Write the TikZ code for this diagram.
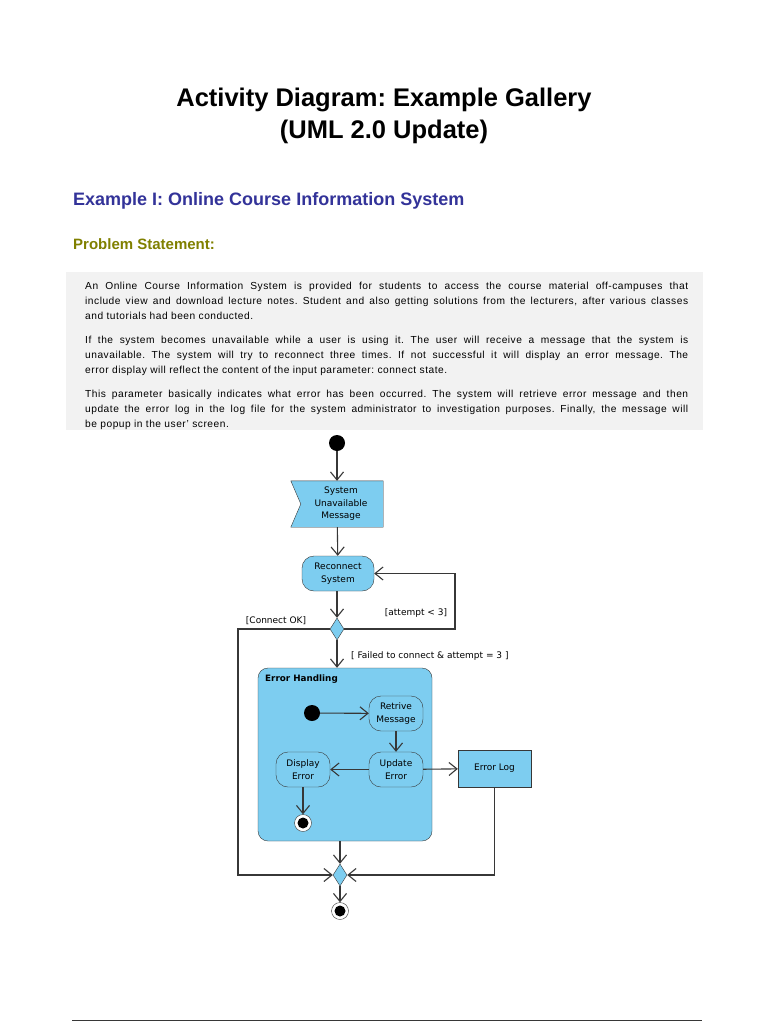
\documentclass[tikz,border=0pt]{standalone}
\usepackage{fontspec}
\setmainfont{Liberation Sans}
\newfontfamily\diagfont{DejaVu Sans}
\usetikzlibrary{positioning}
\usetikzlibrary{shapes.geometric, arrows.meta}
\frenchspacing

\definecolor{actblue}{RGB}{125,205,240}
\definecolor{headblue}{RGB}{51,51,153}
\definecolor{headolive}{RGB}{128,128,0}
\definecolor{boxgray}{RGB}{242,242,242}
\definecolor{edgegray}{RGB}{55,55,55}

\tikzset{
  action/.style={rectangle, rounded corners=12pt, draw=edgegray, fill=actblue, minimum width=54pt, minimum height=35pt, align=center, inner sep=1pt, font=\diagfont\fontsize{9}{12.5}\selectfont},
  store/.style={rectangle, draw=edgegray, fill=actblue, minimum width=73pt, minimum height=37pt, align=center, font=\diagfont\fontsize{9}{12.5}\selectfont},
  branch/.style={diamond, draw=edgegray, fill=actblue, minimum width=14pt, minimum height=22pt, inner sep=0pt},
  startdot/.style={circle, fill=black, minimum size=16pt, inner sep=0pt},
  enddot/.style={circle, draw=edgegray, fill=white, minimum size=17pt, inner sep=0pt, path picture={\fill[black] (path picture bounding box.center) circle (5.5pt);}},
  flow/.style={draw=edgegray, line width=1.1pt, -{Straight Barb[length=8pt,width=13pt]}},
  guard/.style={font=\diagfont\fontsize{9}{10}\selectfont, text=black},
  para/.style={anchor=north west, inner sep=0pt, text width=603pt, align=justify, font=\addfontfeature{LetterSpace=5}\fontsize{10.2}{15}\selectfont}
}

\begin{document}
\begin{tikzpicture}[x=1pt, y=-1pt]
\useasboundingbox (0,0) rectangle (768,1024);
\clip (0,0) rectangle (768,1024);
\fill[white] (0,0) rectangle (768,1024);

\node[font=\fontsize{25.5}{30}\selectfont\bfseries, anchor=base] (title1) at (384,107) {Activity Diagram: Example Gallery};
\node[font=\fontsize{25.5}{30}\selectfont\bfseries, anchor=base] (title2) at (384,139) {(UML 2.0 Update)};
\node[font=\fontsize{18}{21}\selectfont\bfseries, text=headblue, anchor=base west, inner sep=0pt] (exhead) at (73,206) {Example I: Online Course Information System};
\node[font=\fontsize{15}{18}\selectfont\bfseries, text=headolive, anchor=base west, inner sep=0pt] (probhead) at (73,249) {Problem Statement:};

\fill[boxgray] (66,272) rectangle (703,430);
\node[para] (par1) at (85,282) {An Online Course Information System is provided for students to access the course material off-campuses that\linebreak include view and download lecture notes. Student and also getting solutions from the lecturers, after various classes\linebreak and tutorials had been conducted.};
\node[para] (par2) at (85,336) {If the system becomes unavailable while a user is using it. The user will receive a message that the system is\linebreak unavailable. The system will try to reconnect three times. If not successful it will display an error message. The\linebreak error display will reflect the content of the input parameter: connect state.};
\node[para] (par3) at (85,390) {This parameter basically indicates what error has been occurred. The system will retrieve error message and then\linebreak update the error log in the log file for the system administrator to investigation purposes. Finally, the message will\linebreak be popup in the user' screen.};

\node[startdot] (init) at (337,443) {};
\node[minimum width=92pt, minimum height=46pt, inner sep=0pt] (sigmsg) at (337,504) {};
\filldraw[draw=edgegray, fill=actblue] (sigmsg.north west) -- (sigmsg.north east) -- (sigmsg.south east) -- (sigmsg.south west) -- ([xshift=10pt]sigmsg.west) -- cycle;
\node[align=center, font=\diagfont\fontsize{9}{12.5}\selectfont] (sigtext) at ([xshift=4pt]sigmsg.center) {System\\Unavailable\\Message};
\node[action, minimum width=72pt] (reconn) at (338,573.5) {Reconnect\\System};
\node[branch] (dec) at (337,629) {};

\node[rectangle, rounded corners=10pt, draw=edgegray, fill=actblue, minimum width=174pt, minimum height=173pt] (errh) at (345,754.5) {};
\node[anchor=north west, font=\diagfont\fontsize{8.8}{11}\selectfont\bfseries, inner sep=0pt] (errhlabel) at (265,675) {Error Handling};
\node[startdot] (init2) at (312,713) {};
\node[action] (retr) at (396,713.5) {Retrive\\Message};
\node[action] (upd) at (396,769.5) {Update\\Error};
\node[action] (disp) at (303,769.5) {Display\\Error};
\node[enddot] (fin2) at (303,823) {};
\node[store] (elog) at (494.5,768.5) {Error Log};

\node[branch] (merge) at (340,875) {};
\node[enddot] (fin) at (340,911) {};

\coordinate (loopr) at (455,629);
\coordinate (okl) at (238,629);

\draw[flow] (init) -- (sigmsg);
\draw[flow] (sigmsg) -- (reconn);
\draw[flow] (reconn.south -| dec) -- (dec);
\draw[flow] (dec.east) -- (loopr) |- (reconn.east);
\draw[flow] (dec.west) -- (okl) |- (merge.west);
\draw[flow] (dec.south) -- (dec.south |- errh.north);
\draw[flow] (init2) -- (retr);
\draw[flow] (retr) -- (upd);
\draw[flow] (upd) -- (disp);
\draw[flow] (disp) -- (fin2);
\draw[flow] (upd) -- (elog);
\draw[flow] (elog.south) |- (merge.east);
\draw[flow] (errh.south -| merge) -- (merge);
\draw[flow] (merge) -- (fin);

\node[guard] (attlbl) at (416,613) {[attempt < 3]};
\node[guard] (oklbl) at (276,621) {[Connect OK]};
\node[guard, anchor=west, inner sep=0pt] (faillbl) at (351,656) {[ Failed to connect \& attempt = 3 ]};

\draw[edgegray, thick] (72,1020) -- (702,1020);
\node[font=\fontsize{9}{11}\selectfont, anchor=north] (pagelbl) at (384,1021) {Page 1 of 9};
\end{tikzpicture}
\end{document}
